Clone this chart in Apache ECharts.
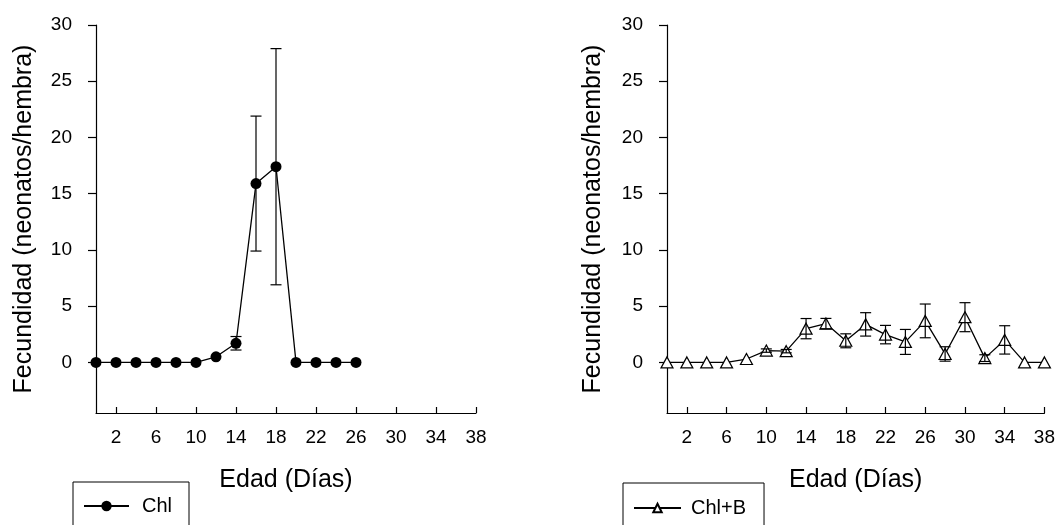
<!DOCTYPE html>
<html><head><meta charset="utf-8">
<script src="https://cdn.jsdelivr.net/npm/echarts@6/dist/echarts.min.js"></script>
<style>html,body{margin:0;padding:0;background:#fff}#c{width:1058px;height:525px}</style>
</head><body><div id="c"></div>
<script>
// ---- data ----
const daysChl = [0, 2, 4, 6, 8, 10, 12, 14, 16, 18, 20, 22, 24, 26];
const meanChl = [0, 0, 0, 0, 0, 0, 0.5, 1.7, 15.9, 17.4, 0, 0, 0, 0];
const errChl  = [0, 0, 0, 0, 0, 0, 0, 0.6, 6.0, 10.5, 0, 0, 0, 0];

const daysChlB = [0, 2, 4, 6, 8, 10, 12, 14, 16, 18, 20, 22, 24, 26, 28, 30, 32, 34, 36, 38];
const meanChlB = [0, 0, 0, 0, 0.3, 1.05, 1.0, 3.0, 3.45, 1.92, 3.38, 2.47, 1.82, 3.69, 0.75, 4.02, 0.38, 2.0, 0, 0];
const errChlB  = [0, 0, 0, 0, 0, 0.15, 0.15, 0.9, 0.46, 0.62, 1.04, 0.82, 1.11, 1.5, 0.64, 1.29, 0.3, 1.26, 0, 0];

const yTicks = [0, 5, 10, 15, 20, 25, 30];
const xTicks = [2, 6, 10, 14, 18, 22, 26, 30, 34, 38];
const xTitle = 'Edad (Días)';
const yTitle = 'Fecundidad (neonatos/hembra)';
const nameChl = 'Chl';
const nameChlB = 'Chl+B';

// ---- chart ----
const FONT = '"Liberation Sans", Arial, sans-serif';
const chart = echarts.init(document.getElementById('c'), null, {renderer: 'canvas'});

function errRender(params, api) {
  const x = api.value(0), lo = api.value(1), hi = api.value(2);
  if (!(hi - lo > 0)) return null;
  const p1 = api.coord([x, hi]), p2 = api.coord([x, lo]);
  const w = 5.5;
  const st = {stroke: '#000', lineWidth: 1.2};
  return {type: 'group', children: [
    {type: 'line', shape: {x1: p1[0], y1: p1[1], x2: p2[0], y2: p2[1]}, style: st},
    {type: 'line', shape: {x1: p1[0] - w, y1: p1[1], x2: p1[0] + w, y2: p1[1]}, style: st},
    {type: 'line', shape: {x1: p2[0] - w, y1: p2[1], x2: p2[0] + w, y2: p2[1]}, style: st}
  ]};
}

function xAxisCfg(gi) {
  return {
    gridIndex: gi, type: 'value', min: 0, max: 38,
    axisLine: {show: true, onZero: false, lineStyle: {color: '#000', width: 1.2}},
    axisTick: {show: true, inside: true, length: 6, customValues: xTicks, lineStyle: {color: '#000', width: 1.2}},
    axisLabel: {customValues: xTicks, color: '#000', fontSize: 19, margin: 15, fontFamily: FONT},
    splitLine: {show: false},
    name: xTitle, nameLocation: 'middle', nameGap: 55,
    nameTextStyle: {fontSize: 25, color: '#000', fontFamily: FONT}
  };
}
function yAxisCfg(gi, gap) {
  return {
    gridIndex: gi, type: 'value', min: -4.5, max: 30,
    axisLine: {show: true, onZero: false, lineStyle: {color: '#000', width: 1.2}},
    axisTick: {show: true, inside: false, length: 8, customValues: yTicks, lineStyle: {color: '#000', width: 1.2}},
    axisLabel: {customValues: yTicks, color: '#000', fontSize: 19, margin: 24, fontFamily: FONT},
    splitLine: {show: false},
    name: yTitle, nameLocation: 'middle', nameGap: gap,
    nameTextStyle: {fontSize: 25, color: '#000', fontFamily: FONT}
  };
}

const option = {
  animation: false,
  backgroundColor: '#fff',
  grid: [
    {left: 96, top: 25, width: 380, height: 388},
    {left: 667, top: 25, width: 380, height: 388}
  ],
  xAxis: [xAxisCfg(0), xAxisCfg(1)],
  yAxis: [yAxisCfg(0, 59), yAxisCfg(1, 61)],
  legend: [
    {
      data: [nameChl], left: 73, top: 482, orient: 'horizontal', selectedMode: false,
      borderColor: '#000', borderWidth: 1, backgroundColor: '#fff',
      padding: [14, 17, 40, 10], itemWidth: 45, itemHeight: 13,
      textStyle: {fontSize: 20, color: '#000', fontFamily: FONT, padding: [0, 0, 0, 8]}
    },
    {
      data: [nameChlB], left: 623, top: 483, orient: 'horizontal', selectedMode: false,
      borderColor: '#000', borderWidth: 1, backgroundColor: '#fff',
      padding: [15, 18, 40, 10], itemWidth: 47, itemHeight: 10.5,
      textStyle: {fontSize: 20, color: '#000', fontFamily: FONT, padding: [0, 0, 0, 5]}
    }
  ],
  series: [
    {
      name: nameChl, type: 'line', xAxisIndex: 0, yAxisIndex: 0,
      data: daysChl.map((d, i) => [d, meanChl[i]]),
      symbol: 'circle', symbolSize: 11,
      lineStyle: {color: '#000', width: 1.3},
      itemStyle: {color: '#000', borderColor: '#000', borderWidth: 0},
      z: 2
    },
    {
      type: 'custom', xAxisIndex: 0, yAxisIndex: 0,
      data: daysChl.map((d, i) => [d, meanChl[i] - errChl[i], meanChl[i] + errChl[i]]),
      encode: {x: 0, y: [1, 2]}, renderItem: errRender, z: 3, silent: true
    },
    {
      name: nameChlB, type: 'line', xAxisIndex: 1, yAxisIndex: 1,
      data: daysChlB.map((d, i) => [d, meanChlB[i]]),
      symbol: 'triangle', symbolSize: [12, 11],
      lineStyle: {color: '#000', width: 1.3},
      itemStyle: {color: '#fff', borderColor: '#000', borderWidth: 1.2},
      z: 2
    },
    {
      type: 'custom', xAxisIndex: 1, yAxisIndex: 1,
      data: daysChlB.map((d, i) => [d, meanChlB[i] - errChlB[i], meanChlB[i] + errChlB[i]]),
      encode: {x: 0, y: [1, 2]}, renderItem: errRender, z: 3, silent: true
    }
  ]
};
chart.setOption(option);
</script>
</body></html>
